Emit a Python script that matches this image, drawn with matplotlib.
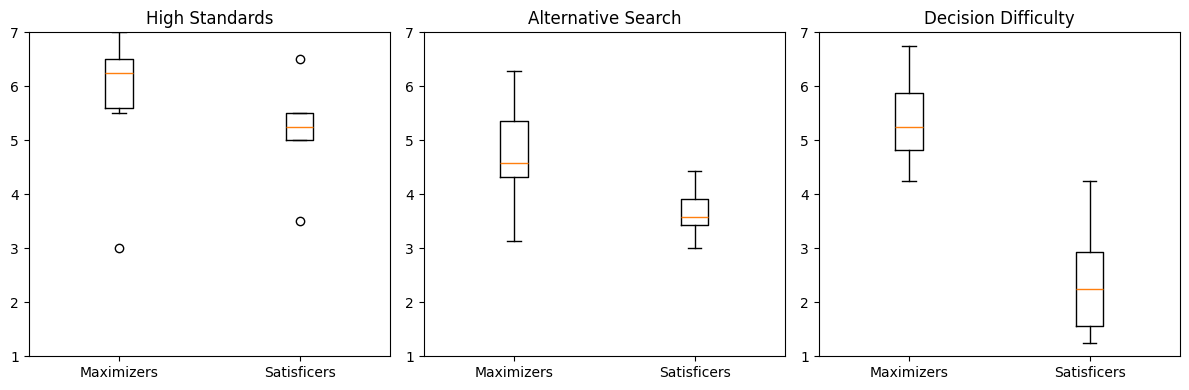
import matplotlib
matplotlib.use("Agg")
import matplotlib.pyplot as plt

groups = ["Maximizers", "Satisficers"]
titles = ["High Standards", "Alternative Search", "Decision Difficulty"]

# per panel: [Maximizers, Satisficers]
whislo = [[5.5, 5.0], [3.13, 3.0], [4.25, 1.25]]
q1 = [[5.6, 5.0], [4.32, 3.43], [4.82, 1.57]]
med = [[6.25, 5.25], [4.58, 3.58], [5.25, 2.25]]
q3 = [[6.5, 5.5], [5.36, 3.92], [5.87, 2.93]]
whishi = [[7.0, 5.5], [6.29, 4.43], [6.75, 4.25]]
fliers = [[[3.0], [6.5, 3.5]], [[], []], [[], []]]

fig, axes = plt.subplots(1, 3, figsize=(12, 4), dpi=100)
for i, ax in enumerate(axes):
    stats = []
    for j, g in enumerate(groups):
        stats.append(dict(label=g, whislo=whislo[i][j], q1=q1[i][j], med=med[i][j],
                          q3=q3[i][j], whishi=whishi[i][j], fliers=fliers[i][j]))
    ax.bxp(stats, showfliers=True)
    ax.set_ylim(1, 7)
    ax.set_title(titles[i])
fig.tight_layout()
fig.savefig("out.png", dpi=100, bbox_inches="tight")
